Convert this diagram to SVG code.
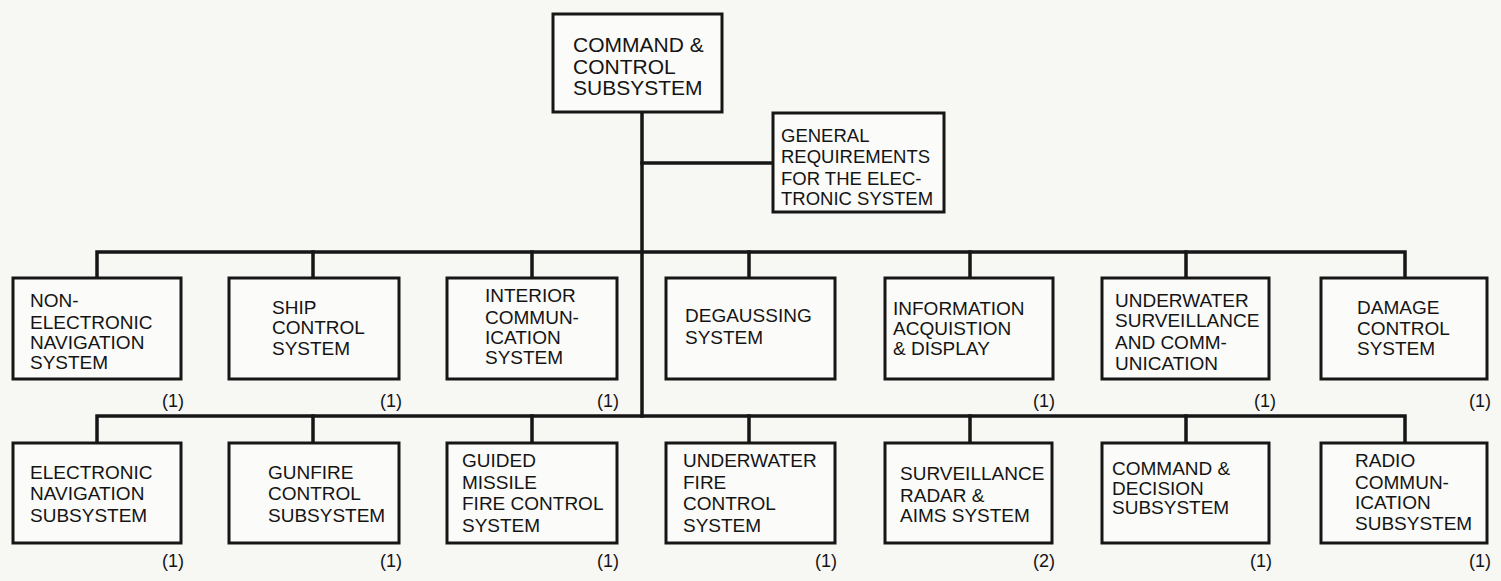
<svg xmlns="http://www.w3.org/2000/svg" width="1501" height="581" viewBox="0 0 1501 581">
<style>
.bg{fill:#f7f7f4}
.box{fill:#fbfbf9;stroke:#161616;stroke-width:3}
.ln{stroke:#161616;stroke-width:3.5;fill:none;stroke-linecap:square}
text{font-family:"Liberation Sans",Arial,sans-serif;font-size:19px;fill:#141414}
.big{font-size:21px}
.req{font-size:18.5px}
.n{text-anchor:end;font-size:18px}
</style>
<rect class="bg" x="0" y="0" width="1501" height="581"/>
<g id="connectors">
<path class="ln" d="M642,112 V416"/>
<path class="ln" d="M642,163 H773"/>
<path class="ln" d="M97,278 V252 H1405 V278"/>
<path class="ln" d="M313,252 V278 M532,252 V278 M749,252 V278 M970,252 V278 M1186,252 V278"/>
<path class="ln" d="M97,443 V416 H1405 V443"/>
<path class="ln" d="M313,416 V443 M532,416 V443 M749,416 V443 M970,416 V443 M1186,416 V443"/>
</g>
<g id="command-control">
<rect class="box" x="553" y="14" width="169" height="98"/>
<text class="big" x="573" y="52">COMMAND &amp;</text>
<text class="big" x="573" y="74">CONTROL</text>
<text class="big" x="573" y="95">SUBSYSTEM</text>
</g>
<g id="general-requirements">
<rect class="box" x="773" y="113" width="171" height="99"/>
<text class="req" x="781" y="142">GENERAL</text>
<text class="req" x="781" y="163">REQUIREMENTS</text>
<text class="req" x="781" y="185">FOR THE ELEC-</text>
<text class="req" x="781" y="205">TRONIC SYSTEM</text>
</g>
<g id="non-electronic-nav">
<rect class="box" x="13" y="278" width="168" height="101"/>
<text x="30" y="307">NON-</text>
<text x="30" y="329">ELECTRONIC</text>
<text x="30" y="349">NAVIGATION</text>
<text x="30" y="369">SYSTEM</text>
<text class="n" x="184" y="407">(1)</text>
</g>
<g id="ship-control">
<rect class="box" x="229" y="278" width="170" height="101"/>
<text x="272" y="314">SHIP</text>
<text x="272" y="334">CONTROL</text>
<text x="272" y="355">SYSTEM</text>
<text class="n" x="402" y="407">(1)</text>
</g>
<g id="interior-comm">
<rect class="box" x="447" y="278" width="170" height="101"/>
<text x="485" y="302">INTERIOR</text>
<text x="485" y="324">COMMUN-</text>
<text x="485" y="344">ICATION</text>
<text x="485" y="364">SYSTEM</text>
<text class="n" x="619" y="407">(1)</text>
</g>
<g id="degaussing">
<rect class="box" x="666" y="278" width="169" height="101"/>
<text x="685" y="322">DEGAUSSING</text>
<text x="685" y="344">SYSTEM</text>
</g>
<g id="info-acquisition">
<rect class="box" x="885" y="278" width="168" height="101"/>
<text x="893" y="315">INFORMATION</text>
<text x="893" y="335">ACQUISTION</text>
<text x="893" y="355">&amp; DISPLAY</text>
<text class="n" x="1055" y="407">(1)</text>
</g>
<g id="underwater-surveillance">
<rect class="box" x="1102" y="278" width="167" height="101"/>
<text x="1115" y="307">UNDERWATER</text>
<text x="1115" y="327">SURVEILLANCE</text>
<text x="1115" y="349">AND COMM-</text>
<text x="1115" y="370">UNICATION</text>
<text class="n" x="1276" y="407">(1)</text>
</g>
<g id="damage-control">
<rect class="box" x="1321" y="278" width="166" height="101"/>
<text x="1357" y="314">DAMAGE</text>
<text x="1357" y="335">CONTROL</text>
<text x="1357" y="355">SYSTEM</text>
<text class="n" x="1491" y="407">(1)</text>
</g>
<g id="electronic-nav">
<rect class="box" x="13" y="443" width="168" height="100"/>
<text x="30" y="479">ELECTRONIC</text>
<text x="30" y="500">NAVIGATION</text>
<text x="30" y="522">SUBSYSTEM</text>
<text class="n" x="184" y="567">(1)</text>
</g>
<g id="gunfire-control">
<rect class="box" x="229" y="443" width="170" height="100"/>
<text x="268" y="479">GUNFIRE</text>
<text x="268" y="500">CONTROL</text>
<text x="268" y="522">SUBSYSTEM</text>
<text class="n" x="402" y="567">(1)</text>
</g>
<g id="guided-missile">
<rect class="box" x="447" y="443" width="170" height="100"/>
<text x="462" y="467">GUIDED</text>
<text x="462" y="489">MISSILE</text>
<text x="462" y="510">FIRE CONTROL</text>
<text x="462" y="532">SYSTEM</text>
<text class="n" x="619" y="567">(1)</text>
</g>
<g id="underwater-fire">
<rect class="box" x="666" y="443" width="169" height="100"/>
<text x="683" y="467">UNDERWATER</text>
<text x="683" y="489">FIRE</text>
<text x="683" y="510">CONTROL</text>
<text x="683" y="532">SYSTEM</text>
<text class="n" x="837" y="567">(1)</text>
</g>
<g id="surveillance-radar">
<rect class="box" x="885" y="443" width="167" height="100"/>
<text x="900" y="480">SURVEILLANCE</text>
<text x="900" y="502">RADAR &amp;</text>
<text x="900" y="522">AIMS SYSTEM</text>
<text class="n" x="1055" y="567">(2)</text>
</g>
<g id="command-decision">
<rect class="box" x="1102" y="443" width="167" height="100"/>
<text x="1112" y="475">COMMAND &amp;</text>
<text x="1112" y="495">DECISION</text>
<text x="1112" y="514">SUBSYSTEM</text>
<text class="n" x="1272" y="567">(1)</text>
</g>
<g id="radio-comm">
<rect class="box" x="1321" y="443" width="166" height="100"/>
<text x="1355" y="467">RADIO</text>
<text x="1355" y="489">COMMUN-</text>
<text x="1355" y="509">ICATION</text>
<text x="1355" y="530">SUBSYSTEM</text>
<text class="n" x="1491" y="567">(1)</text>
</g>
</svg>
